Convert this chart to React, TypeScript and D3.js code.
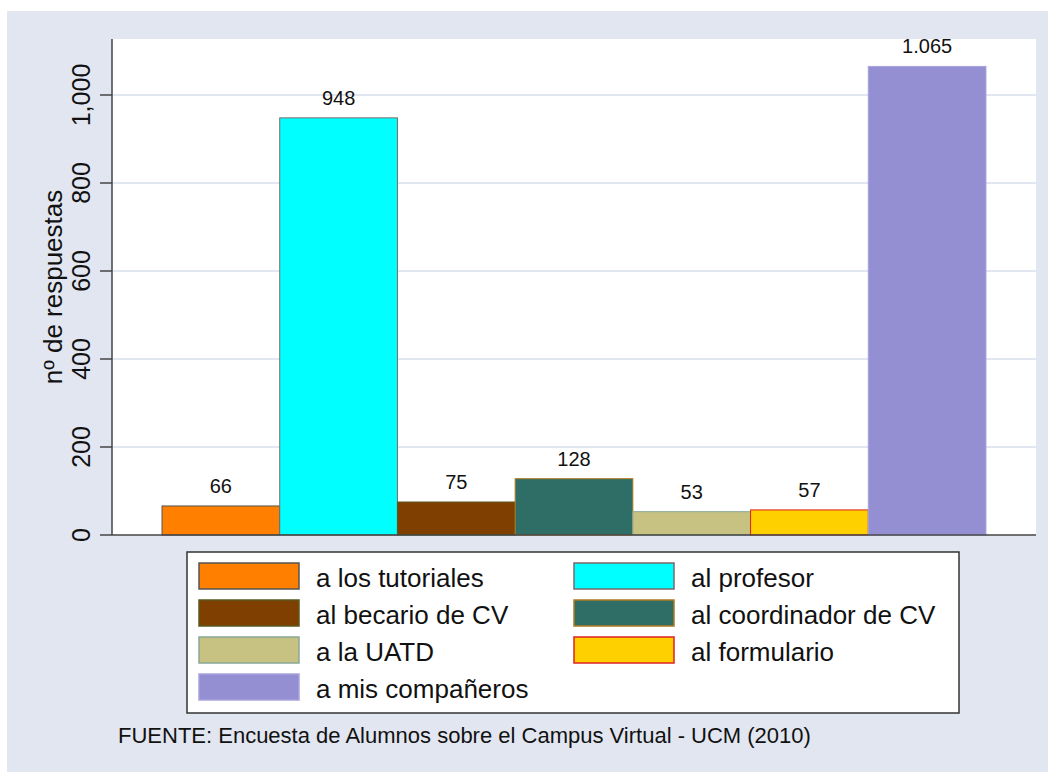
import * as d3 from "d3";

const categories = [
  "a los tutoriales",
  "al profesor",
  "al becario de CV",
  "al coordinador de CV",
  "a la UATD",
  "al formulario",
  "a mis compañeros",
];
const values = [66, 948, 75, 128, 53, 57, 1065];
const fills = ["#ff7f00", "#00ffff", "#7f3f00", "#2e6e66", "#c8c282", "#ffd000", "#948fd2"];
const strokes = ["#555555", "#7a6a6a", "#5a5a20", "#b07a20", "#88a898", "#e02020", "#a8a4dc"];
const yTicks = [0, 200, 400, 600, 800, 1000];
const yTitle = "nº de respuestas";
const source = "FUENTE: Encuesta de Alumnos sobre el Campus Virtual - UCM (2010)";

const W = 1048;
const H = 772;
const font = "Arial, 'Liberation Sans', Helvetica, sans-serif";
const bg = "#e1e6f0";

export default function App() {
  const plot = { left: 112, right: 1036, top: 39, bottom: 535 };

  const x = d3
    .scaleBand()
    .domain(categories)
    .range([plot.left, plot.right])
    .paddingInner(0)
    .paddingOuter(0.425);

  const y = d3.scaleLinear().domain([0, 1000]).range([plot.bottom, 95]);

  const tickFmt = d3.format(",");
  const labelFmt = d3.formatLocale({ decimal: ",", thousands: ".", grouping: [3], currency: ["", ""] }).format(",");

  // legend layout
  const lg = { left: 187, top: 552, right: 959, bottom: 713 };
  const colX = [199, 574];
  const rowStep = 37;

  return (
    <svg width={W} height={H} style={{ position: "absolute", left: 0, top: 0 }} fontFamily={font}>
      <rect x={0} y={0} width={W} height={H} fill="#ffffff" />
      <rect x={7} y={11} width={W - 7} height={H - 11} fill={bg} />
      <rect x={plot.left} y={plot.top} width={plot.right - plot.left} height={plot.bottom - plot.top} fill="#ffffff" />

      {/* grid */}
      {yTicks.slice(1).map((t) => (
        <line key={t} x1={plot.left} x2={plot.right} y1={y(t)} y2={y(t)} stroke={bg} strokeWidth={2} />
      ))}

      {/* bars */}
      {categories.map((c, i) => (
        <rect
          key={c}
          x={x(c)}
          y={y(values[i])}
          width={x.bandwidth()}
          height={y(0) - y(values[i])}
          fill={fills[i]}
          stroke={strokes[i]}
          strokeWidth={1}
        />
      ))}

      {/* value labels */}
      {categories.map((c, i) => (
        <text
          key={c}
          x={(x(c) || 0) + x.bandwidth() / 2}
          y={y(values[i]) - 13}
          textAnchor="middle"
          fontSize={20}
          fill="#111"
        >
          {labelFmt(values[i])}
        </text>
      ))}

      {/* axes */}
      <line x1={plot.left} x2={plot.left} y1={plot.top} y2={plot.bottom} stroke="#444" strokeWidth={1.5} />
      <line x1={plot.left} x2={plot.right} y1={plot.bottom} y2={plot.bottom} stroke="#444" strokeWidth={1.5} />
      {yTicks.map((t) => (
        <g key={t}>
          <line x1={100} x2={plot.left} y1={y(t)} y2={y(t)} stroke="#444" strokeWidth={1.5} />
          <text
            transform={`translate(90,${y(t)}) rotate(-90)`}
            textAnchor="middle"
            fontSize={25}
            fill="#111"
          >
            {tickFmt(t)}
          </text>
        </g>
      ))}
      <text
        transform={`translate(62,${(plot.top + plot.bottom) / 2}) rotate(-90)`}
        textAnchor="middle"
        fontSize={26}
        fill="#111"
      >
        {yTitle}
      </text>

      {/* legend */}
      <rect
        x={lg.left}
        y={lg.top}
        width={lg.right - lg.left}
        height={lg.bottom - lg.top}
        fill="#ffffff"
        stroke="#333"
        strokeWidth={1.5}
      />
      {categories.map((c, i) => {
        const col = i % 2;
        const row = Math.floor(i / 2);
        const sy = 563 + row * rowStep;
        return (
          <g key={c}>
            <rect x={colX[col]} y={sy} width={100} height={26} fill={fills[i]} stroke={strokes[i]} strokeWidth={1.5} />
            <text x={colX[col] + 117} y={sy + 24} fontSize={26} fill="#111">
              {c}
            </text>
          </g>
        );
      })}

      <text x={118} y={743} fontSize={22} fill="#111">
        {source}
      </text>
    </svg>
  );
}
